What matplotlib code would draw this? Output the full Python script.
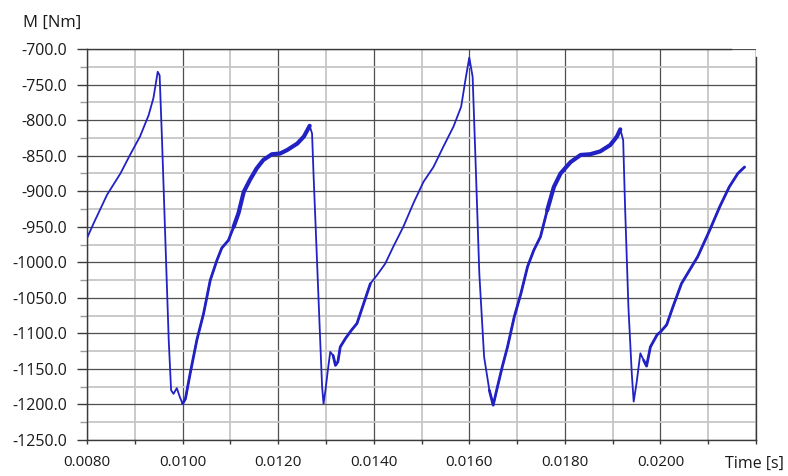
import numpy as np
import matplotlib.pyplot as plt
from matplotlib.ticker import FixedLocator, FormatStrFormatter

# torque trace, time [s] / torque [Nm]
time_s = [0.00800, 0.00814, 0.00842, 0.00870, 0.00890, 0.00911, 0.00929, 0.00939,
          0.00948, 0.00952, 0.00957, 0.00964, 0.00971, 0.00976, 0.00981, 0.00988,
          0.00994, 0.01000, 0.01006, 0.01016, 0.01030, 0.01044, 0.01058, 0.01072,
          0.01082, 0.01096, 0.01107, 0.01117, 0.01128, 0.01141, 0.01155, 0.01169,
          0.01187, 0.01204, 0.01219, 0.01240, 0.01254, 0.01266, 0.01271, 0.01274,
          0.01281, 0.01288, 0.01292, 0.01295, 0.01299, 0.01304, 0.01309, 0.01315,
          0.01320, 0.01325, 0.01330, 0.01341, 0.01354, 0.01365, 0.01379, 0.01393,
          0.01407, 0.01424, 0.01441, 0.01462, 0.01483, 0.01504, 0.01525, 0.01546,
          0.01567, 0.01583, 0.01593, 0.01600, 0.01607, 0.01614, 0.01621, 0.01631,
          0.01642, 0.01650, 0.01659, 0.01669, 0.01680, 0.01694, 0.01708, 0.01722,
          0.01735, 0.01749, 0.01763, 0.01777, 0.01791, 0.01812, 0.01833, 0.01853,
          0.01874, 0.01895, 0.01909, 0.01916, 0.01922, 0.01926, 0.01933, 0.01940,
          0.01944, 0.01950, 0.01958, 0.01965, 0.01971, 0.01979, 0.01993, 0.02000,
          0.02013, 0.02026, 0.02044, 0.02061, 0.02078, 0.02103, 0.02124, 0.02144,
          0.02162, 0.02176]
torque = [-966, -945, -905, -875, -849, -823, -793, -769,
          -732, -737, -828, -969, -1109, -1180, -1185, -1177,
          -1189, -1199, -1192, -1156, -1109, -1072, -1025, -997,
          -980, -969, -950, -931, -901, -884, -868, -856,
          -848, -847, -842, -833, -823, -808, -819, -875,
          -992, -1110, -1175, -1199, -1180, -1152, -1126, -1131,
          -1145, -1140, -1119, -1107, -1095, -1086, -1058, -1030,
          -1018, -1002, -978, -950, -917, -887, -866, -837,
          -809, -781, -739, -712, -739, -875, -1016, -1133,
          -1180, -1201, -1175, -1147, -1119, -1077, -1044, -1006,
          -983, -964, -927, -894, -875, -859, -849, -848,
          -844, -835, -823, -813, -828, -922, -1063, -1156,
          -1196, -1170, -1128, -1138, -1146, -1119, -1102, -1098,
          -1088, -1063, -1030, -1011, -992, -955, -922, -894,
          -875, -866]

# stretches where the signal carries heavy ripple (drawn as a wider band)
ripple_spans = [(0.01107, 0.01266), (0.01763, 0.01916)]
light_ripple_spans = [(0.01000, 0.01107), (0.01315, 0.01393), (0.01642, 0.01763),
                      (0.01965, 0.02176)]

x_ticks = [0.008, 0.010, 0.012, 0.014, 0.016, 0.018, 0.020]
x_minor = [0.009, 0.011, 0.013, 0.015, 0.017, 0.019, 0.021, 0.022]
y_ticks = list(range(-1250, -699, 50))
y_minor = list(range(-1225, -700, 50))

plt.rcParams['font.family'] = ['Open Sans', 'DejaVu Sans']

fig = plt.figure(figsize=(7.88, 4.76), dpi=100)
ax = fig.add_axes([0.1104, 0.0756, 0.8490, 0.8214])

t = np.array(time_s)
m = np.array(torque)
line_col = '#2222c4'
ax.plot(t, m, color=line_col, lw=1.3, zorder=3)
for lo, hi in light_ripple_spans:
    sel = (t >= lo) & (t <= hi)
    ax.plot(t[sel], m[sel], color=line_col, lw=2.0, zorder=3, solid_capstyle='round')
for lo, hi in ripple_spans:
    sel = (t >= lo) & (t <= hi)
    ax.plot(t[sel], m[sel], color=line_col, lw=3.0, zorder=3, solid_capstyle='round')

ax.set_xlim(0.008, 0.022)
ax.set_ylim(-1250, -700)

ax.xaxis.set_major_locator(FixedLocator(x_ticks))
ax.xaxis.set_minor_locator(FixedLocator(x_minor))
ax.yaxis.set_major_locator(FixedLocator(y_ticks))
ax.yaxis.set_minor_locator(FixedLocator(y_minor))
ax.xaxis.set_major_formatter(FormatStrFormatter('%.4f'))
ax.yaxis.set_major_formatter(FormatStrFormatter('%.1f'))

ax.grid(which='major', color='#4f4f4f', lw=0.9)
ax.grid(which='minor', color='#c6c6c6', lw=1.3)
ax.set_axisbelow(True)

# no gridline along the top edge, the shortened top frame line takes its place
for tk in ax.yaxis.get_major_ticks():
    if tk.get_loc() == -700:
        tk.gridline.set_visible(False)

for side in ['left', 'bottom', 'top', 'right']:
    ax.spines[side].set_color('#3a3a3a')
    ax.spines[side].set_linewidth(1.0)
ax.spines['top'].set_bounds(0.008, 0.02148)
ax.spines['right'].set_bounds(-1250, -711)

ax.tick_params(axis='y', which='major', length=7.5, width=1.0, color='#3a3a3a',
               pad=7, labelsize=11.5, labelcolor='#1a1a1a')
ax.tick_params(axis='y', which='minor', length=5, width=1.0, color='#9a9a9a')
ax.tick_params(axis='x', which='major', length=3, width=1.0, color='#3a3a3a',
               pad=8, labelsize=11, labelcolor='#1a1a1a')
ax.tick_params(axis='x', which='minor', length=3, width=1.0, color='#3a3a3a')

fig.text(0.029, 0.952, 'M [Nm]', fontsize=12, color='#1a1a1a', va='center')
fig.text(0.92, 0.025, 'Time [s]', fontsize=11.5, color='#1a1a1a', va='center')

fig.savefig('out.png', dpi=100)
